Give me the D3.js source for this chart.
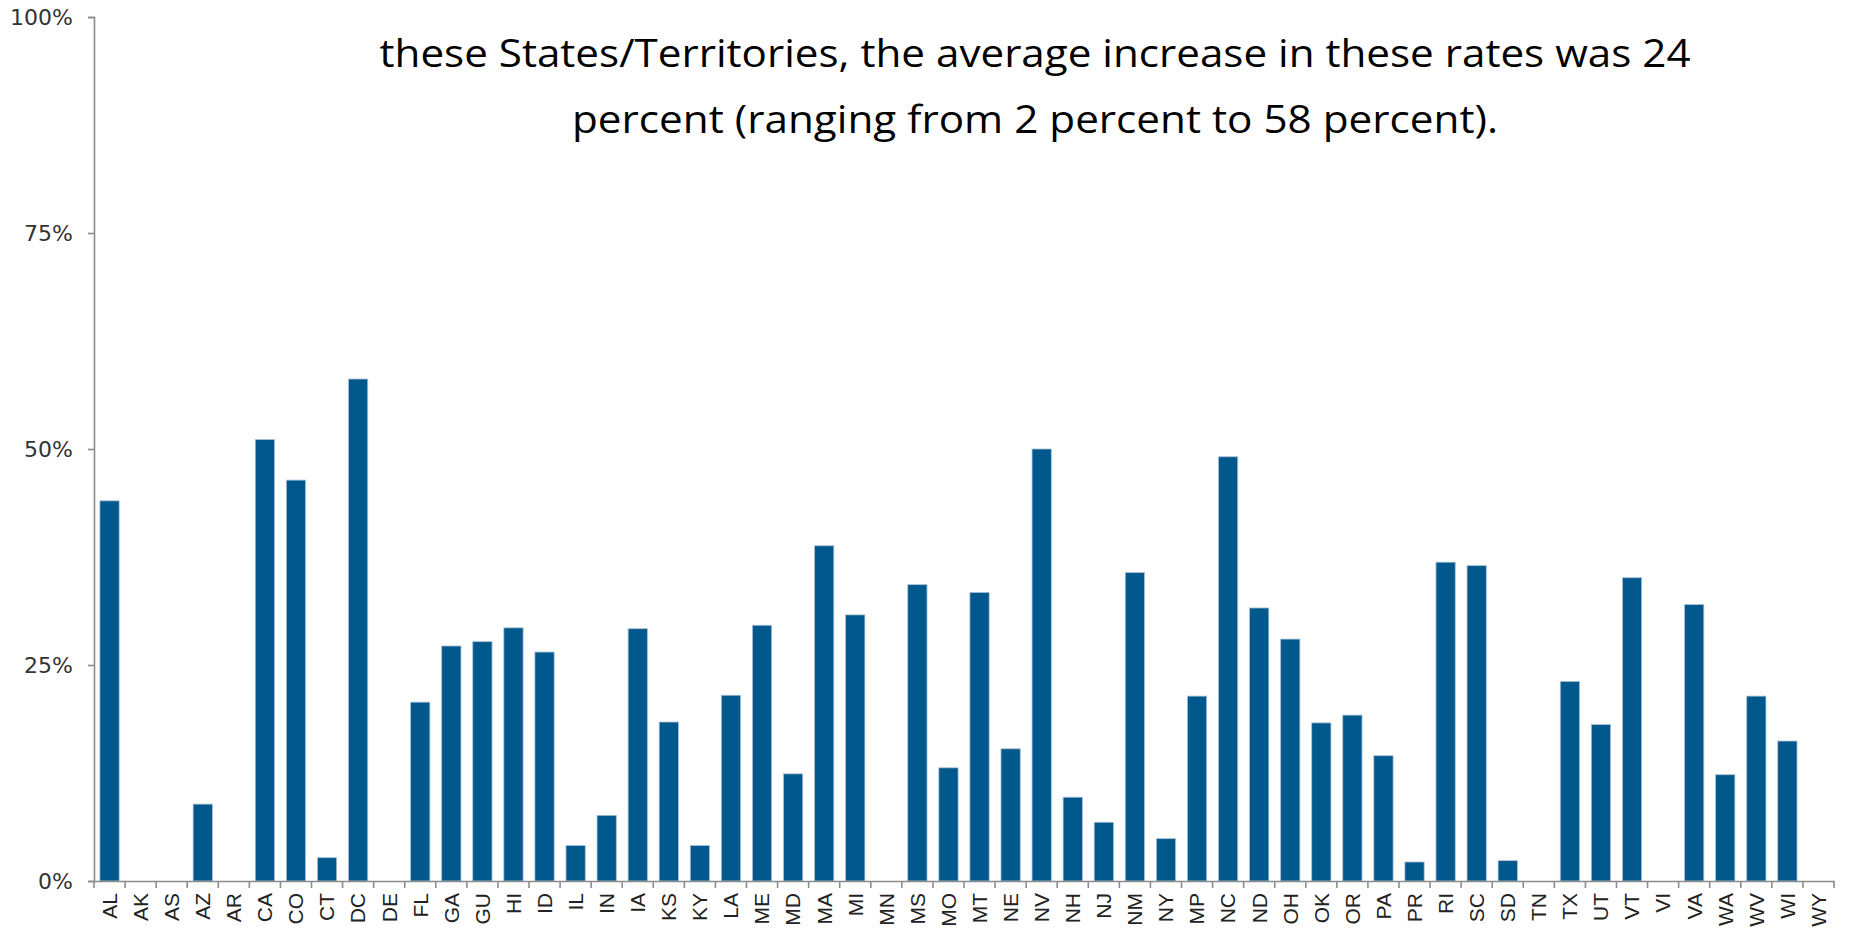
<!DOCTYPE html>
<html><head><meta charset="utf-8">
<script src="https://cdn.jsdelivr.net/npm/d3@7"></script>
<style>body{margin:0;background:#fff;}svg{display:block;}</style>
</head><body>
<svg id="chart" width="1849" height="933"></svg>
<script>
const categories = ["AL","AK","AS","AZ","AR","CA","CO","CT","DC","DE","FL","GA","GU","HI","ID","IL","IN","IA","KS","KY","LA","ME","MD","MA","MI","MN","MS","MO","MT","NE","NV","NH","NJ","NM","NY","MP","NC","ND","OH","OK","OR","PA","PR","RI","SC","SD","TN","TX","UT","VT","VI","VA","WA","WV","WI","WY"];
const values = [44.0,0,0,8.9,0,51.1,46.4,2.7,58.1,0,20.7,27.2,27.7,29.3,26.5,4.1,7.6,29.2,18.4,4.1,21.5,29.6,12.4,38.8,30.8,0,34.3,13.1,33.4,15.3,50.0,9.7,6.8,35.7,4.9,21.4,49.1,31.6,28.0,18.3,19.2,14.5,2.2,36.9,36.5,2.35,0,23.1,18.1,35.1,0,32.0,12.3,21.4,16.2,0];
const yTicks = [0,25,50,75,100];
const titleLines = ["these States/Territories, the average increase in these rates was 24",
                    "percent (ranging from 2 percent to 58 percent)."];

const svg = d3.select("#chart");
const x = d3.scaleBand().domain(categories).range([94, 1834]).paddingInner(0.38).paddingOuter(0.19);
const xb = d3.scaleBand().domain(categories).range([94, 1834]);
const y = d3.scaleLinear().domain([0,100]).range([881, 17]);

// bars
svg.append("g").selectAll("rect").data(values).join("rect")
  .attr("x", (d,i)=>x(categories[i]))
  .attr("width", x.bandwidth())
  .attr("y", d=>y(d))
  .attr("height", d=>y(0)-y(d))
  .attr("fill", "#01588c")
  .attr("stroke", "#a9c1d6").attr("stroke-width", 0.8)
  .attr("display", d=> d>0 ? null : "none");

// y axis
const yAxis = svg.append("g").attr("transform","translate(94,0)")
  .call(d3.axisLeft(y).tickValues(yTicks).tickFormat(d=>d+"%").tickSize(6).tickPadding(15));
yAxis.select(".domain").attr("stroke","#8c8c8c").attr("stroke-width",1.6);
yAxis.selectAll(".tick line").attr("stroke","#8c8c8c").attr("stroke-width",1.6);
yAxis.selectAll("text").attr("font-family","'DejaVu Sans', Verdana, sans-serif").attr("font-size",22).attr("fill","#333");

// x axis
const xAxis = svg.append("g").attr("transform","translate(0,881)")
  .call(d3.axisBottom(xb).tickSize(0).tickPadding(0).tickSizeOuter(0));
xAxis.select(".domain").attr("stroke","#8c8c8c").attr("stroke-width",1.6);
xAxis.selectAll(".tick text")
  .attr("font-family","'Liberation Sans', Arial, sans-serif").attr("font-size",21).attr("fill","#222")
  .attr("text-anchor","end").attr("dy","0.35em")
  .attr("transform","translate(0,12) rotate(-90)");
// boundary ticks
const bounds = categories.map(c=>xb(c)).concat([xb.range()[1]]);
svg.append("g").selectAll("line").data(bounds).join("line")
  .attr("x1",d=>d).attr("x2",d=>d).attr("y1",881).attr("y2",888)
  .attr("stroke","#8c8c8c").attr("stroke-width",1.6);

// title text
svg.append("g").selectAll("text").data(titleLines).join("text")
  .attr("x", 1035).attr("y",(d,i)=>67+i*66)
  .attr("text-anchor","middle")
  .attr("font-family","'Open Sans', Lato, sans-serif").attr("font-size",38)
  .attr("fill","#000")
  .attr("textLength",(d,i)=> i===0 ? 1311 : 926).attr("lengthAdjust","spacingAndGlyphs")
  .text(d=>d);
</script>
</body></html>
